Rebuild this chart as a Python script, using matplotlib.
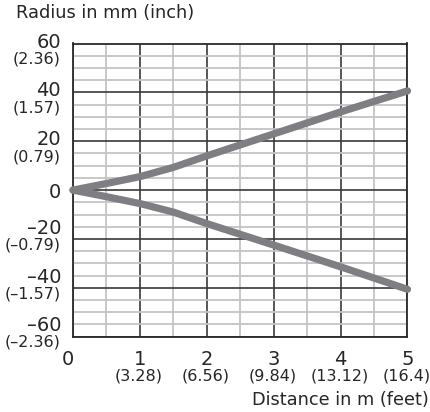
import matplotlib
matplotlib.use("Agg")
import matplotlib.pyplot as plt

plt.rcParams['font.family'] = ['DejaVu Sans']

distance_m = [0, 0.5, 1, 1.5, 2, 3, 4, 5]
radius_upper = [0, 2.7, 5.5, 9.3, 14, 23, 32, 40.6]
radius_lower = [0, -2.7, -5.5, -9.0, -13.7, -22.5, -31.4, -40.6]

x_ticks = [0, 1, 2, 3, 4, 5]
x_tick_labels = ["0", "1", "2", "3", "4", "5"]
x_tick_sub = ["", "(3.28)", "(6.56)", "(9.84)", "(13.12)", "(16.4)"]
y_ticks = [60, 40, 20, 0, -20, -40, -60]
y_tick_labels = ["60", "40", "20", "0", "\u201320", "\u201340", "\u201360"]
y_tick_sub = ["(2.36)", "(1.57)", "(0.79)", "", "(\u20130.79)", "(\u20131.57)", "(\u20132.36)"]

TXT = '#262626'
W, H = 431, 412
fig = plt.figure(figsize=(W / 100, H / 100), dpi=100)
ax = fig.add_axes([73 / W, 1 - 336.7 / H, (407.5 - 73) / W, (336.7 - 43.5) / H])
ax.set_xlim(0, 5)
ax.set_ylim(-60, 60)

# grid
ax.set_xticks([i * 0.5 for i in range(11)], minor=True)
ax.set_yticks(list(range(-60, 61, 5)), minor=True)
ax.set_xticks(x_ticks)
ax.set_yticks(y_ticks)
ax.grid(True, which='minor', color='#c4c4c4', linewidth=1.3, zorder=1)
ax.grid(True, which='major', color='#3a3a3a', linewidth=1.2, zorder=2)
ax.tick_params(which='both', length=0, labelbottom=False, labelleft=False)
for s in ax.spines.values():
    s.set_color('#2a2a2a')
    s.set_linewidth(1.3)
    s.set_zorder(3)

ax.plot(distance_m, radius_upper, color='#7f7f83', linewidth=5.2,
        solid_capstyle='round', solid_joinstyle='round', clip_on=False, zorder=5)
ax.plot(distance_m, radius_lower, color='#7f7f83', linewidth=5.2,
        solid_capstyle='round', solid_joinstyle='round', clip_on=False, zorder=5)

# y tick labels
for v, lab, sub in zip(y_ticks, y_tick_labels, y_tick_sub):
    if v > 0:
        off_main, off_sub = 3.5, -15.5
    elif v < 0:
        off_main, off_sub = 12.8, -5.7
    else:
        off_main, off_sub = 0, 0
    ax.annotate(lab, xy=(0, v), xycoords=('axes fraction', 'data'),
                xytext=(-12, off_main), textcoords='offset pixels',
                ha='right', va='center_baseline', fontsize=14, color=TXT)
    if sub:
        ax.annotate(sub, xy=(0, v), xycoords=('axes fraction', 'data'),
                    xytext=(-12, off_sub), textcoords='offset pixels',
                    ha='right', va='center', fontsize=11.5, color=TXT)

# x tick labels
for v, lab, sub in zip(x_ticks, x_tick_labels, x_tick_sub):
    dx = -5 if v == 0 else 0
    ax.annotate(lab, xy=(v, 0), xycoords=('data', 'axes fraction'),
                xytext=(dx, -21), textcoords='offset pixels',
                ha='center', va='center_baseline', fontsize=14, color=TXT)
    if sub:
        ax.annotate(sub, xy=(v, 0), xycoords=('data', 'axes fraction'),
                    xytext=(-1, -39), textcoords='offset pixels',
                    ha='center', va='center', fontsize=11.5, color=TXT)

fig.text(16 / W, 1 - 13.5 / H, "Radius in mm (inch)", ha='left', va='center',
         fontsize=12.8, color=TXT)
fig.text(429 / W, 1 - 400 / H, "Distance in m (feet)", ha='right', va='center',
         fontsize=12.8, color=TXT)

fig.savefig("out.png", dpi=100)
